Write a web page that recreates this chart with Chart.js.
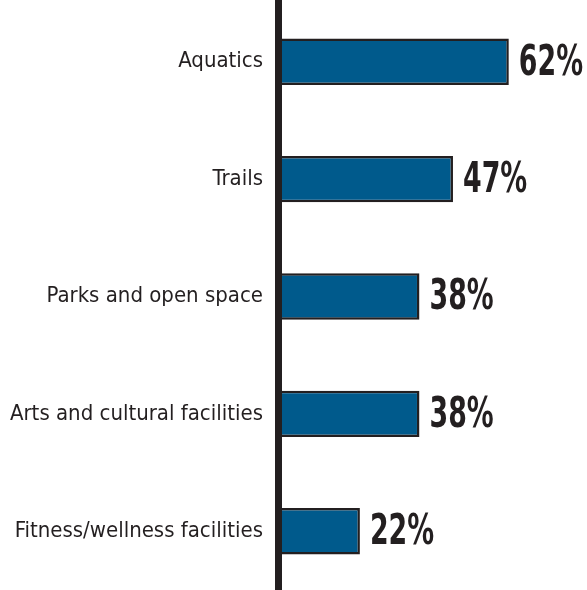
<!DOCTYPE html>
<html>
<head>
<meta charset="utf-8">
<script src="https://cdn.jsdelivr.net/npm/chart.js@4"></script>
<style>
  body { margin: 0; background: #fff; }
  canvas { display: block; }
</style>
</head>
<body>
<canvas id="grafico" width="587" height="590"></canvas>
<script>
// dados do gráfico
const categorias = ["Aquatics", "Trails", "Parks and open space", "Arts and cultural facilities", "Fitness/wellness facilities"];
const percentuais = [62, 47, 38, 38, 22];

const corBarra = '#005a8c';
const corTexto = '#231f20';
const fonte = '"DejaVu Sans Condensed", "Liberation Sans Narrow", sans-serif';

// rótulos de valor ao lado das barras (fonte estreitada na horizontal)
const rotulosValor = {
    id: 'rotulosValor',
    afterDatasetsDraw(chart) {
        const ctx = chart.ctx;
        const meta = chart.getDatasetMeta(0);
        const escala = 0.71;
        meta.data.forEach((bar, i) => {
            ctx.save();
            ctx.translate(bar.x + 10, bar.y + 2);
            ctx.scale(escala, 1);
            ctx.font = 'bold 42px ' + fonte;
            ctx.fillStyle = corTexto;
            ctx.textBaseline = 'middle';
            ctx.textAlign = 'left';
            ctx.fillText(percentuais[i] + '%', 0, 0);
            ctx.restore();
        });
    }
};

const ctx = document.getElementById('grafico').getContext('2d');
new Chart(ctx, {
    type: 'bar',
    data: {
        labels: categorias,
        datasets: [{
            data: percentuais,
            backgroundColor: corBarra,
            borderColor: corTexto,
            borderWidth: 2.5,
            borderSkipped: false,
            categoryPercentage: 1,
            barPercentage: 0.395
        }]
    },
    options: {
        indexAxis: 'y',
        responsive: false,
        animation: false,
        layout: { padding: { top: 3, bottom: 0, left: 0, right: 0 } },
        plugins: {
            legend: { display: false },
            tooltip: { enabled: false }
        },
        scales: {
            x: {
                display: false,
                min: 0,
                max: 83
            },
            y: {
                grid: { display: false, drawTicks: false },
                border: { display: true, color: corTexto, width: 7, z: 1 },
                ticks: {
                    color: corTexto,
                    padding: 15,
                    font: { family: fonte, size: 22 }
                },
                afterFit: s => {
                    // largura fixa do eixo e sem folga vertical dos rótulos
                    s.width = 278;
                    s.paddingTop = 0;
                    s.paddingBottom = 0;
                }
            }
        }
    },
    plugins: [rotulosValor]
});
</script>
</body>
</html>
